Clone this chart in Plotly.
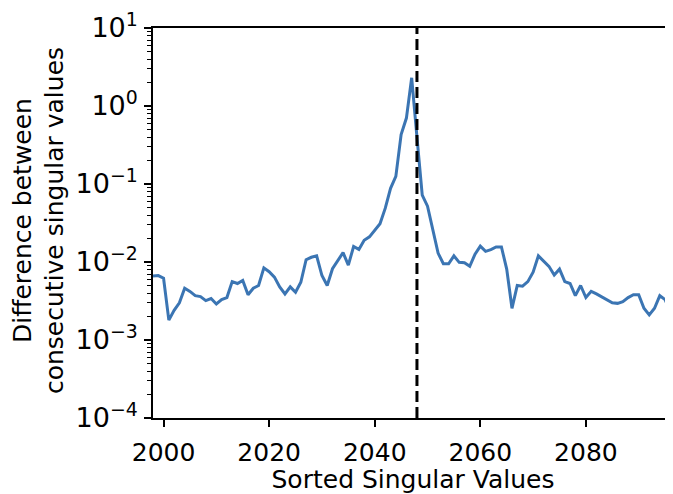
import plotly.graph_objects as go

# Data
x_vals = list(range(1998, 2098))
diff_vals = [
    6.6e-3, 6.7e-3, 6.2e-3, 1.8e-3, 2.4e-3, 3.0e-3, 4.6e-3, 4.2e-3, 3.7e-3, 3.6e-3,
    3.2e-3, 3.4e-3, 2.9e-3, 3.3e-3, 3.5e-3, 5.6e-3, 5.3e-3, 5.8e-3, 3.8e-3, 4.6e-3,
    5.0e-3, 8.4e-3, 7.5e-3, 6.4e-3, 4.8e-3, 3.9e-3, 4.8e-3, 4.1e-3, 5.5e-3, 1.07e-2,
    1.15e-2, 1.2e-2, 6.7e-3, 5.0e-3, 8.2e-3, 1.03e-2, 1.32e-2, 9.1e-3, 1.58e-2, 1.45e-2,
    1.9e-2, 2.1e-2, 2.55e-2, 3.1e-2, 4.9e-2, 8.8e-2, 0.125, 0.43, 0.70, 2.3,
    0.40, 0.072, 0.052, 0.026, 0.013, 9.5e-3, 9.5e-3, 1.2e-2, 9.9e-3, 9.8e-3,
    8.8e-3, 1.26e-2, 1.6e-2, 1.37e-2, 1.44e-2, 1.56e-2, 1.56e-2, 8.1e-3, 2.55e-3, 5.0e-3,
    4.9e-3, 5.6e-3, 7.4e-3, 1.2e-2, 1.03e-2, 8.8e-3, 6.8e-3, 8.1e-3, 5.6e-3, 5.3e-3,
    3.7e-3, 5.0e-3, 3.5e-3, 4.2e-3, 3.9e-3, 3.6e-3, 3.3e-3, 3.0e-3, 2.95e-3, 3.1e-3,
    3.5e-3, 3.8e-3, 3.8e-3, 2.55e-3, 2.1e-3, 2.55e-3, 3.7e-3, 3.3e-3, 2.3e-3, 5.4e-4,
]
cutoff_x = 2048
x_tick_vals = [2000, 2020, 2040, 2060, 2080]
x_tick_text = ["2000", "2020", "2040", "2060", "2080"]
y_exponents = [-4, -3, -2, -1, 0, 1]
y_tick_text = ["10<sup>−4</sup>", "10<sup>−3</sup>", "10<sup>−2</sup>",
               "10<sup>−1</sup>", "10<sup>0</sup>", "10<sup>1</sup>"]
x_title = "Sorted Singular Values"
y_title = "Difference between<br>consecutive singular values"

FONT = "DejaVu Sans"
FS = 25
y_tick_vals = [10.0 ** e for e in y_exponents]
y_minor_vals = [m * 10.0 ** e for e in y_exponents[:-1] for m in range(2, 10)]

# The page body has an 8px default margin, so the figure is sized to end at the window edge.
PLOT_W = 520

fig = go.Figure()
fig.add_trace(go.Scatter(
    x=x_vals, y=diff_vals, mode="lines",
    line=dict(color="#3b75b3", width=3),
    showlegend=False,
))

fig.add_shape(type="line", xref="x", yref="paper",
              x0=cutoff_x, x1=cutoff_x, y0=0, y1=1,
              line=dict(color="black", width=3, dash="11px,5px"))

fig.update_layout(
    width=665, height=486,
    margin=dict(l=145, r=0, t=14, b=76),
    paper_bgcolor="white", plot_bgcolor="white",
    font=dict(family=FONT, size=FS, color="black"),
    xaxis=dict(
        range=[1998, 2096.5],
        tickmode="array", tickvals=x_tick_vals, ticktext=x_tick_text,
        ticks="outside", ticklen=7, tickwidth=1.6, tickcolor="black",
        ticklabelstandoff=4, ticklabeloverflow="allow",
        showline=True, linecolor="black", linewidth=1.6, mirror=True,
        showgrid=False, zeroline=False,
        tickfont=dict(family=FONT, size=FS),
        title=dict(text=x_title, font=dict(family=FONT, size=FS), standoff=6),
    ),
    yaxis=dict(
        type="log", range=[-4, 1],
        tickmode="array", tickvals=y_tick_vals, ticktext=y_tick_text,
        ticks="outside", ticklen=7, tickwidth=1.6, tickcolor="black",
        ticklabelstandoff=1, ticklabeloverflow="allow",
        showline=True, linecolor="black", linewidth=1.6,
        showgrid=False, zeroline=False,
        tickfont=dict(family=FONT, size=27),
        minor=dict(tickmode="array", tickvals=y_minor_vals, ticks="outside",
                   ticklen=4, tickwidth=1.2, tickcolor="black", showgrid=False),
    ),
    annotations=[dict(
        text=y_title, textangle=-90, showarrow=False,
        xref="paper", yref="paper", x=(39 - 153) / PLOT_W, y=0.505,
        xanchor="center", yanchor="middle",
        font=dict(family=FONT, size=FS, color="black"),
    )],
)

fig.write_html("out.html")
